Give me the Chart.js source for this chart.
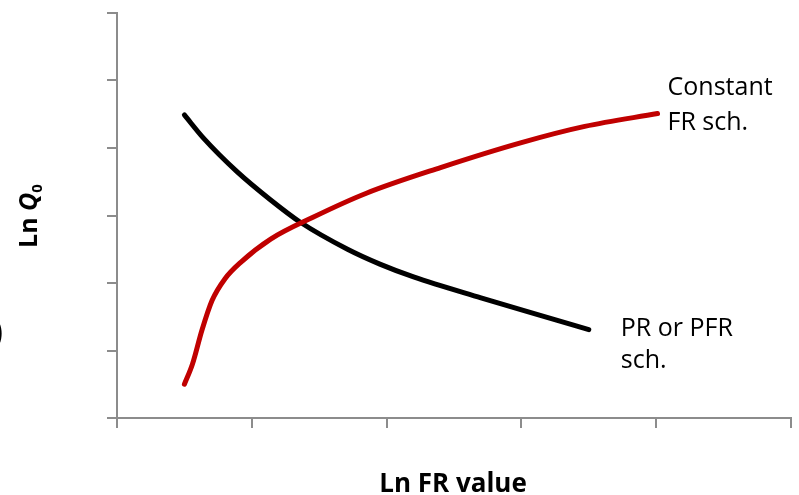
<!DOCTYPE html>
<html>
<head>
<meta charset="utf-8">
<script src="https://cdn.jsdelivr.net/npm/chart.js@4/dist/chart.umd.min.js"></script>
<style>
  html, body { margin: 0; padding: 0; background: #fff; }
  #chart { display: block; }
</style>
</head>
<body>
<canvas id="chart" width="799" height="495"></canvas>
<script>
// Constant FR schedule (red)
const constantX = [0.50, 0.56, 0.63, 0.705, 0.80, 0.92, 1.14, 1.45, 1.85, 2.40, 3.00, 3.47, 4.01];
const constantY = [0.50, 0.80, 1.30, 1.74, 2.06, 2.31, 2.65, 2.97, 3.33, 3.71, 4.08, 4.32, 4.51];

// PR or PFR schedule (black)
const prX = [0.50, 0.64, 0.89, 1.14, 1.36, 1.71, 1.95, 2.20, 2.70, 3.14, 3.50];
const prY = [4.49, 4.15, 3.65, 3.23, 2.90, 2.50, 2.28, 2.09, 1.78, 1.52, 1.31];

const xTicks = [0, 1, 2, 3, 4, 5];
const yTicks = [0, 1, 2, 3, 4, 5, 6];

const seriesNames = ["Constant FR sch.", "PR or PFR sch."];
const axisColor = "#8c8c8c";

function toPoints(xs, ys) {
  return xs.map((x, i) => ({ x: x, y: ys[i] }));
}

// text that lives outside of the scales: axis titles and the line labels
const labelPlugin = {
  id: "labelPlugin",
  afterDraw(chart) {
    const ctx = chart.ctx;
    const xs = chart.scales.x;
    const ys = chart.scales.y;
    ctx.save();
    ctx.fillStyle = "#000";
    ctx.textBaseline = "alphabetic";

    // x title
    ctx.font = "bold 26px 'Open Sans'";
    ctx.textAlign = "center";
    ctx.fillText("Ln FR value", 453, 492);

    // y title, rotated: "Ln " + italic Q + subscript 0
    ctx.save();
    ctx.translate(37, 216);
    ctx.rotate(-Math.PI / 2);
    ctx.textAlign = "left";
    ctx.font = "bold 25px 'Open Sans'";
    const w1 = ctx.measureText("Ln ").width;
    ctx.font = "italic bold 25px 'Open Sans'";
    const w2 = ctx.measureText("Q").width;
    ctx.font = "bold 15px 'Open Sans'";
    const w3 = ctx.measureText("0").width;
    let px = -(w1 + w2 + w3) / 2;
    ctx.font = "bold 25px 'Open Sans'";
    ctx.fillText("Ln ", px, 0);
    px += w1;
    ctx.font = "italic bold 25px 'Open Sans'";
    ctx.fillText("Q", px, 0);
    px += w2;
    ctx.font = "bold 15px 'Open Sans'";
    ctx.fillText("0", px, 5);
    ctx.restore();

    // labels at the line ends
    ctx.font = "25px 'Open Sans'";
    ctx.textAlign = "left";
    const rx = xs.getPixelForValue(constantX[constantX.length - 1]);
    const ry = ys.getPixelForValue(constantY[constantY.length - 1]);
    ctx.fillText("Constant", rx + 10, ry - 19);
    ctx.fillText("FR sch.", rx + 10, ry + 16);
    const bx = xs.getPixelForValue(prX[prX.length - 1]);
    const by = ys.getPixelForValue(prY[prY.length - 1]);
    ctx.fillText("PR or PFR", bx + 32, by + 6);
    ctx.fillText("sch.", bx + 32, by + 38);

    // bracket cut off at the left edge of the figure
    ctx.font = "32px 'Open Sans'";
    ctx.textAlign = "right";
    ctx.fillText(")", 3, 343);
    ctx.restore();
  }
};

function axisOptions(min, max, ticks) {
  return {
    type: "linear",
    min: min,
    max: max,
    afterBuildTicks: (scale) => {
      scale.ticks = ticks.map(v => ({ value: v }));
    },
    ticks: { display: false },
    grid: {
      drawOnChartArea: false,
      drawTicks: true,
      tickLength: 10,
      color: axisColor,
      lineWidth: 2,
    },
    border: { color: axisColor, width: 2 },
  };
}

new Chart("chart", {
  type: "line",
  data: {
    datasets: [
      {
        label: seriesNames[0],
        data: toPoints(constantX, constantY),
        borderColor: "#c00000",
        borderWidth: 5,
        borderCapStyle: "round",
        borderJoinStyle: "round",
        cubicInterpolationMode: "monotone",
        fill: false,
      },
      {
        label: seriesNames[1],
        data: toPoints(prX, prY),
        borderColor: "#000000",
        borderWidth: 5,
        borderCapStyle: "round",
        borderJoinStyle: "round",
        cubicInterpolationMode: "monotone",
        fill: false,
      },
    ],
  },
  options: {
    responsive: false,
    animation: false,
    layout: { padding: { left: 107, right: 8, top: 13, bottom: 67 } },
    elements: { point: { radius: 0, hoverRadius: 0 } },
    scales: {
      x: axisOptions(0, 5, xTicks),
      y: axisOptions(0, 6, yTicks),
    },
    plugins: {
      legend: { display: false },
      tooltip: { enabled: false },
    },
  },
  plugins: [labelPlugin],
});
</script>
</body>
</html>
